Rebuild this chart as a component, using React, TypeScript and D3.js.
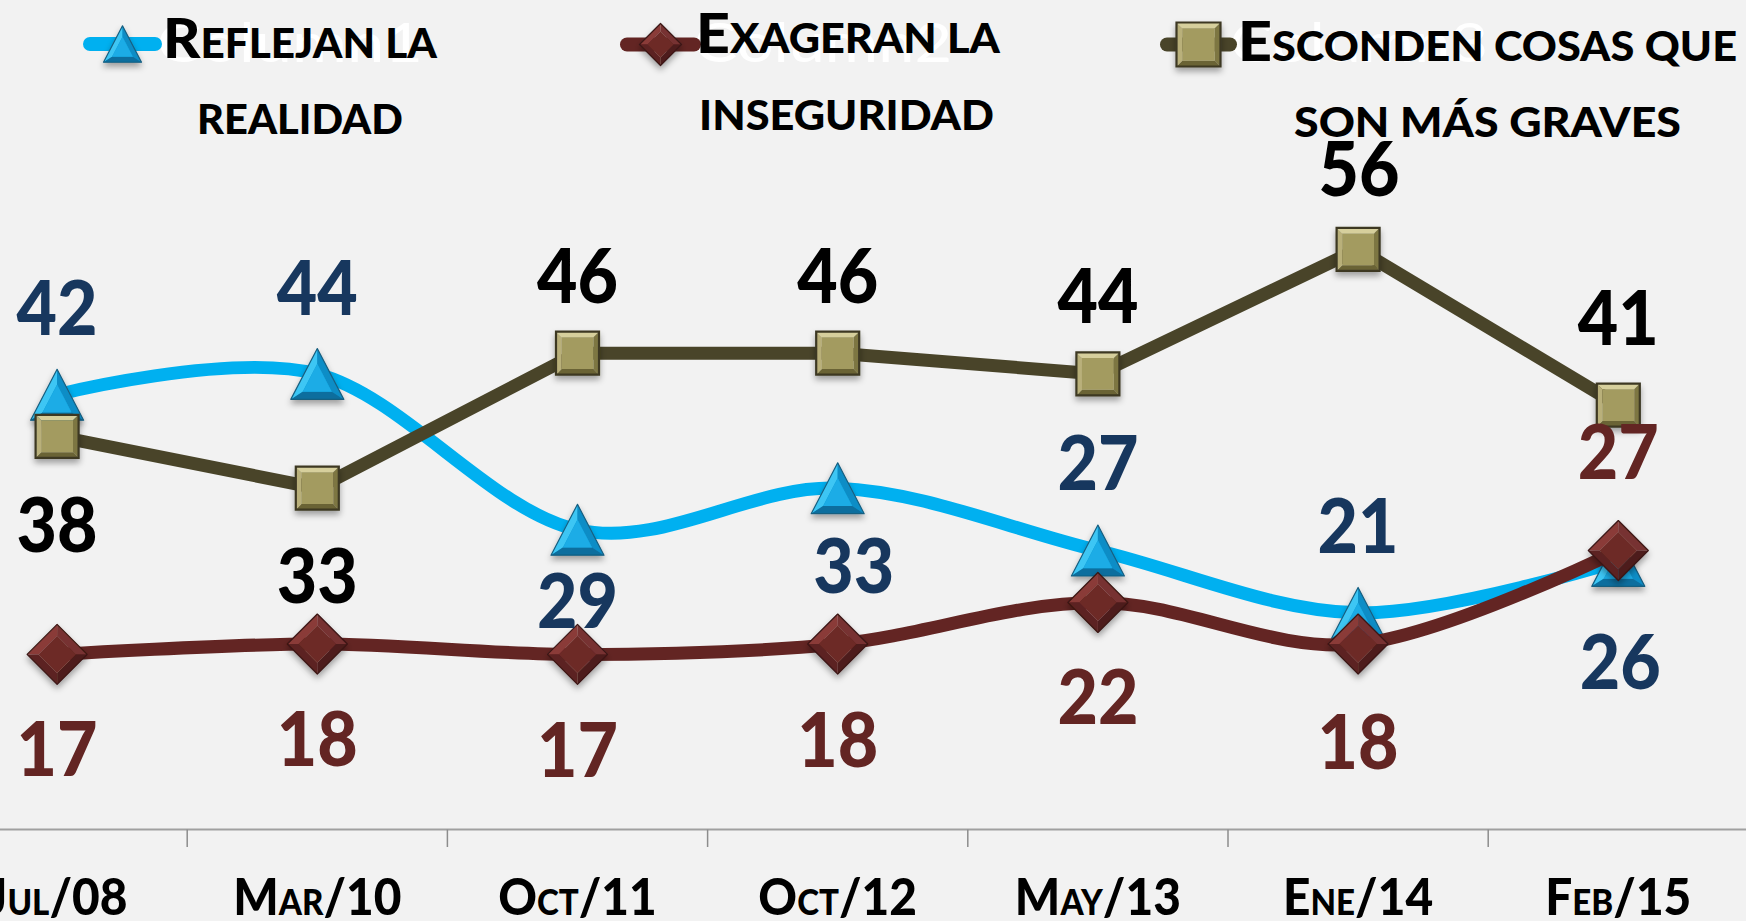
import React from 'react';
import * as d3 from 'd3';

// ---------- data ----------
const categories = ['Jul/08', 'Mar/10', 'Oct/11', 'Oct/12', 'May/13', 'Ene/14', 'Feb/15'];
const reflejanValues = [42, 44, 29, 33, 27, 21, 26];
const exageranValues = [17, 18, 17, 18, 22, 18, 27];
const escondenValues = [38, 33, 46, 46, 44, 56, 41];
const seriesNames = [
  ['Reflejan la', 'realidad'],
  ['Exageran la', 'inseguridad'],
  ['Esconden cosas que', 'son más graves'],
];
const hiddenSeriesNames = ['Column1', 'Column2', 'Column3'];
const yDomain = [0, 80];

// ---------- layout ----------
const W = 1746;
const H = 921;
const BG = '#F2F2F2';
const FONT = 'Lato, "Open Sans", "DejaVu Sans", sans-serif';
const HEAVY = 900;

const reflejanLabelOffset = [[0, -87], [0, -86], [0, 71], [16, 77], [0, -88], [0, -87], [2, 101]];
const exageranLabelOffset = [[0, 94], [0, 94], [0, 95], [0, 95], [0, 94], [0, 97], [0, -99]];
const escondenLabelOffset = [[0, 88], [0, 87], [0, -78], [0, -78], [0, -78], [1, -81], [0, -88]];

const legendLayout = [
  { line: [90, 155], my: 44, size: 38, text: [{ x0: 163, x1: 437, base: 58 }, { x0: 197, x1: 403, base: 134 }], hidden: { x0: 157, x1: 423, base: 62 } },
  { line: [627, 694], my: 44.5, size: 42, text: [{ x0: 696, x1: 1000, base: 53 }, { x0: 699, x1: 994, base: 130 }], hidden: { x0: 694, x1: 952, base: 62 } },
  { line: [1167, 1230], my: 44.5, size: 44, text: [{ x0: 1238, x1: 1737, base: 61 }, { x0: 1294, x1: 1681, base: 137 }], hidden: { x0: 1230, x1: 1488, base: 62 } },
];

const xScale = d3.scaleBand<string>().domain(categories).range([-73, 1748.4]).paddingInner(0).paddingOuter(0);
const yScale = d3.scaleLinear().domain(yDomain).range([831, 0]);
const cxOf = (c: string) => (xScale(c) as number) + xScale.bandwidth() / 2;

type MarkerType = 'triangle' | 'diamond' | 'square';

const series = [
  { values: reflejanValues, color: '#00B0F0', labelColor: '#17375E', smooth: true, marker: 'triangle' as MarkerType, size: 53, offsets: reflejanLabelOffset },
  { values: exageranValues, color: '#632523', labelColor: '#632523', smooth: true, marker: 'diamond' as MarkerType, size: 60, offsets: exageranLabelOffset },
  { values: escondenValues, color: '#494429', labelColor: '#000000', smooth: false, marker: 'square' as MarkerType, size: 43, offsets: escondenLabelOffset },
];

function smallCapsParts(text: string) {
  const parts: { small: boolean; t: string }[] = [];
  for (const ch of text) {
    const isLower = ch !== ch.toUpperCase();
    const small = isLower || ch === ' ';
    const c = isLower ? ch.toUpperCase() : ch;
    const last = parts[parts.length - 1];
    if (last && last.small === small) last.t += c;
    else parts.push({ small, t: c });
  }
  return parts;
}

const pts = (arr: number[][]) => arr.map((p) => p.join(',')).join(' ');

function shrink(points: number[][], cx: number, cy: number, k: number) {
  return points.map(([x, y]) => [cx + (x - cx) * k, cy + (y - cy) * k]);
}

function Marker({ type, cx, cy, size }: { type: MarkerType; cx: number; cy: number; size: number }) {
  if (type === 'triangle') {
    const w = size;
    const h = size * 0.96;
    const A = [cx, cy - h / 2];
    const B = [cx - w / 2, cy + h / 2];
    const C = [cx + w / 2, cy + h / 2];
    const gx = cx;
    const gy = cy + h / 6;
    const [Ai, Bi, Ci] = shrink([A, B, C], gx, gy, 0.55);
    return (
      <g filter="url(#mshadow)">
        <polygon points={pts([A, B, C])} fill="#1496CF" />
        <polygon points={pts([A, B, Bi, Ai])} fill="#3CC6F4" />
        <polygon points={pts([A, C, Ci, Ai])} fill="#0E8DC6" />
        <polygon points={pts([B, C, Ci, Bi])} fill="#0B6E9E" />
        <polygon points={pts([Ai, Bi, Ci])} fill="#1AACE6" />
        <polygon points={pts([A, B, C])} fill="none" stroke="#185F80" strokeWidth={1.2} strokeLinejoin="round" />
      </g>
    );
  }
  if (type === 'diamond') {
    const r = size / 2;
    const T = [cx, cy - r];
    const R = [cx + r, cy];
    const Bt = [cx, cy + r];
    const L = [cx - r, cy];
    const [Ti, Ri, Bi, Li] = shrink([T, R, Bt, L], cx, cy, 0.62);
    return (
      <g filter="url(#mshadow)">
        <polygon points={pts([T, L, Li, Ti])} fill="#8A3B37" />
        <polygon points={pts([T, R, Ri, Ti])} fill="#773230" />
        <polygon points={pts([R, Bt, Bi, Ri])} fill="#4E1C1A" />
        <polygon points={pts([Bt, L, Li, Bi])} fill="#5C2220" />
        <polygon points={pts([Ti, Ri, Bi, Li])} fill="#6D2A27" />
        <polygon points={pts([T, R, Bt, L])} fill="none" stroke="#3A1513" strokeWidth={1.2} strokeLinejoin="round" />
      </g>
    );
  }
  const s = size / 2;
  const o = [[cx - s, cy - s], [cx + s, cy - s], [cx + s, cy + s], [cx - s, cy + s]];
  const i = shrink(o, cx, cy, 0.74);
  return (
    <g filter="url(#mshadow)">
      <polygon points={pts([o[0], o[1], i[1], i[0]])} fill="#D6CF9C" />
      <polygon points={pts([o[1], o[2], i[2], i[1]])} fill="#7D7643" />
      <polygon points={pts([o[2], o[3], i[3], i[2]])} fill="#6A6336" />
      <polygon points={pts([o[3], o[0], i[0], i[3]])} fill="#B9B07A" />
      <polygon points={pts(i)} fill="#A39B61" />
      <polygon points={pts(o)} fill="none" stroke="#3C3823" strokeWidth={2.2} />
    </g>
  );
}

function SmallCapsText({ text, x, y, big, small, anchor = 'middle', length, squeeze = 1, fill = '#000' }: any) {
  const parts = smallCapsParts(text);
  const extra = length ? { textLength: length, lengthAdjust: 'spacingAndGlyphs' } : {};
  return (
    <g transform={`translate(${x},${y}) scale(${squeeze},1)`}>
      <text x={0} y={0} textAnchor={anchor} fontFamily={FONT} fontWeight={HEAVY} fill={fill} {...extra}>
        {parts.map((p, k) => (
          <tspan key={k} fontSize={p.small ? small : big}>{p.t}</tspan>
        ))}
      </text>
    </g>
  );
}

export default function App() {
  const axisY = 829.5;
  const bounds = [...categories.map((c) => xScale(c) as number), (xScale.range()[1] as number)];

  return (
    <svg width={W} height={H} viewBox={`0 0 ${W} ${H}`} style={{ position: 'absolute', left: 0, top: 0, display: 'block' }}>
      <defs>
        <filter id="mshadow" x="-50%" y="-50%" width="200%" height="200%">
          <feDropShadow dx={0} dy={4} stdDeviation={3} floodColor="#000" floodOpacity={0.35} />
        </filter>
      </defs>
      <rect x={0} y={0} width={W} height={H} fill={BG} />

      {/* axis */}
      <line x1={0} x2={W} y1={axisY} y2={axisY} stroke="#A0A0A0" strokeWidth={2} />
      {bounds.map((bx, k) => (
        <line key={k} x1={bx} x2={bx} y1={axisY} y2={847} stroke="#8C8C8C" strokeWidth={1.5} />
      ))}
      {categories.map((c) => (
        <SmallCapsText key={c} text={c} x={cxOf(c)} y={915} big={52} small={36} squeeze={0.92} />
      ))}

      {/* series */}
      {series.map((s, si) => {
        const line = d3
          .line<number>()
          .x((_, k) => cxOf(categories[k]))
          .y((v) => yScale(v))
          .curve(s.smooth ? d3.curveCardinal.tension(0) : d3.curveLinear);
        return (
          <g key={si}>
            <path d={line(s.values) as string} fill="none" stroke={s.color} strokeWidth={13} strokeLinecap="round" strokeLinejoin="round" />
            {s.values.map((v, k) => (
              <Marker key={k} type={s.marker} cx={cxOf(categories[k])} cy={yScale(v)} size={s.size} />
            ))}
          </g>
        );
      })}

      {/* data labels */}
      {series.map((s, si) => (
        <g key={'l' + si}>
          {s.values.map((v, k) => (
            <text
              key={k}
              x={cxOf(categories[k]) + s.offsets[k][0]}
              y={yScale(v) + s.offsets[k][1] + 27.5}
              textAnchor="middle"
              fontFamily={FONT}
              fontWeight={HEAVY}
              fontSize={77}
              fill={s.labelColor}
              textLength={81}
              lengthAdjust="spacingAndGlyphs"
            >
              {String(v)}
            </text>
          ))}
        </g>
      ))}

      {/* legend */}
      {legendLayout.map((lg, li) => {
        const s = series[li];
        const mx = (lg.line[0] + lg.line[1]) / 2;
        return (
          <g key={'lg' + li}>
            <text x={lg.hidden.x0} y={lg.hidden.base} fontFamily={FONT} fontSize={54} fill="#FFFFFF" textLength={lg.hidden.x1 - lg.hidden.x0} lengthAdjust="spacingAndGlyphs">
              {hiddenSeriesNames[li]}
            </text>
            <line x1={lg.line[0]} x2={lg.line[1]} y1={lg.my} y2={lg.my} stroke={s.color} strokeWidth={14} strokeLinecap="round" />
            <Marker type={s.marker} cx={mx} cy={lg.my} size={lg.size} />
            {seriesNames[li].map((t, ti) => (
              <SmallCapsText key={ti} text={t} x={lg.text[ti].x0} y={lg.text[ti].base} big={56} small={41} anchor="start" length={lg.text[ti].x1 - lg.text[ti].x0} />
            ))}
          </g>
        );
      })}
    </svg>
  );
}
